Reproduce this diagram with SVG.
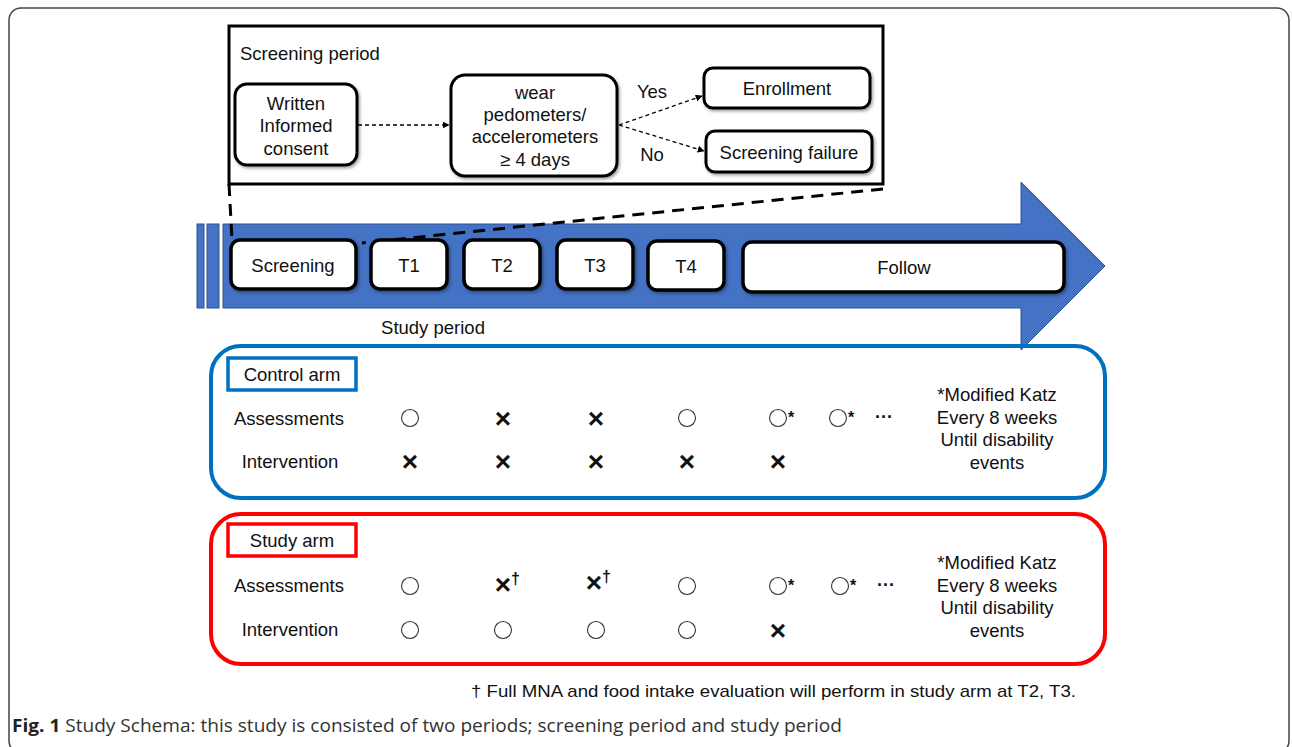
<svg xmlns="http://www.w3.org/2000/svg" width="1292" height="747" viewBox="0 0 1292 747">
<defs>
<style>
text{font-family:"Liberation Sans",Arial,sans-serif;fill:#111;}
.t18{font-size:18.5px;}
.t17{font-size:17px;}
.c{text-anchor:middle;}
.node{fill:#fff;stroke:#000;stroke-width:3.5;}
.snode{fill:#fff;stroke:#000;stroke-width:3;}
.dash{fill:none;stroke:#000;stroke-width:1.3;stroke-dasharray:4 3;}
.bigdash{fill:none;stroke:#000;stroke-width:3;stroke-dasharray:12 8;}
.circ{fill:#fff;stroke:#333;stroke-width:1.1;}
.x{font-size:28px;font-weight:bold;text-anchor:middle;}
.sup{font-size:16px;font-weight:bold;}
.dots{font-size:18px;font-weight:bold;text-anchor:middle;}
</style>
<marker id="ah" viewBox="0 0 10 10" refX="9" refY="5" markerWidth="7" markerHeight="7" orient="auto" markerUnits="userSpaceOnUse">
<path d="M0,0 L10,5 L0,10 z" fill="#000"/>
</marker>
<filter id="sh" x="-10%" y="-10%" width="130%" height="140%">
<feDropShadow dx="1.5" dy="2" stdDeviation="1.5" flood-color="#000" flood-opacity="0.35"/>
</filter>
</defs>

<rect x="9" y="8" width="1280" height="745" rx="12" fill="#fff" stroke="#444" stroke-width="1.5"/>

<!-- Screening period panel -->
<g id="screening-panel">
<rect x="229" y="26" width="654" height="158" fill="#fff" stroke="#000" stroke-width="3"/>
<text class="t18" x="240" y="60">Screening period</text>
</g>

<!-- timeline arrow -->
<g id="timeline-arrow">
<rect x="197" y="224" width="7" height="84" fill="#4472C4" stroke="#2F528F" stroke-width="1"/>
<rect x="207" y="224" width="12" height="84" fill="#4472C4" stroke="#2F528F" stroke-width="1"/>
<path d="M223,224 L1021,224 L1021,182 L1105,266 L1021,350 L1021,308 L223,308 z" fill="#4472C4" stroke="#2F528F" stroke-width="1"/>
</g>

<g id="connectors">
<path class="bigdash" d="M229,184 L232,240"/>
<path class="bigdash" d="M883,189 L362,243"/>
<path class="dash" d="M358,125 L449,125" marker-end="url(#ah)"/>
<path class="dash" d="M619,125 L702,96" marker-end="url(#ah)"/>
<path class="dash" d="M619,125 L704,151" marker-end="url(#ah)"/>
</g>

<g id="n-consent">
<rect class="snode" x="235" y="84" width="122" height="81" rx="12" filter="url(#sh)"/>
<text class="t18 c" x="296" y="110">Written</text>
<text class="t18 c" x="296" y="132">Informed</text>
<text class="t18 c" x="296" y="155">consent</text>
</g>
<g id="n-wear">
<rect class="snode" x="451" y="75" width="166" height="101" rx="14" filter="url(#sh)"/>
<text class="t18 c" x="535" y="99">wear</text>
<text class="t18 c" x="535" y="121">pedometers/</text>
<text class="t18 c" x="535" y="143">accelerometers</text>
<text class="t18 c" x="535" y="166">≥ 4 days</text>
</g>
<g id="n-enroll">
<rect class="snode" x="704" y="68" width="166" height="40" rx="9" filter="url(#sh)"/>
<text class="t18 c" x="787" y="95">Enrollment</text>
</g>
<g id="n-fail">
<rect class="snode" x="706" y="131" width="166" height="41" rx="9" filter="url(#sh)"/>
<text class="t18 c" x="789" y="159">Screening failure</text>
</g>
<g id="labels-yesno">
<text class="t18 c" x="652" y="98">Yes</text>
<text class="t18 c" x="652" y="161">No</text>
</g>

<!-- timeline boxes -->
<g id="n-screening">
<rect class="node" x="231" y="240" width="125" height="49" rx="9" filter="url(#sh)"/>
<text class="t18 c" x="293" y="272">Screening</text>
</g>
<g id="n-t1">
<rect class="node" x="371" y="240" width="76" height="49" rx="9" filter="url(#sh)"/>
<text class="t18 c" x="409" y="272">T1</text>
</g>
<g id="n-t2">
<rect class="node" x="464" y="240" width="76" height="49" rx="9" filter="url(#sh)"/>
<text class="t18 c" x="502" y="272">T2</text>
</g>
<g id="n-t3">
<rect class="node" x="557" y="240" width="76" height="49" rx="9" filter="url(#sh)"/>
<text class="t18 c" x="595" y="272">T3</text>
</g>
<g id="n-t4">
<rect class="node" x="648" y="241" width="76" height="49" rx="9" filter="url(#sh)"/>
<text class="t18 c" x="686" y="273">T4</text>
</g>
<g id="n-follow">
<rect class="node" x="743" y="242" width="321" height="50" rx="9" filter="url(#sh)"/>
<text class="t18 c" x="904" y="274">Follow</text>
</g>
<text class="t18 c" x="433" y="334">Study period</text>

<!-- Control arm -->
<g id="control-arm">
<rect x="211" y="346" width="894" height="152" rx="30" fill="none" stroke="#0070C0" stroke-width="4"/>
<rect x="228" y="358" width="128" height="32" fill="#fff" stroke="#0070C0" stroke-width="3.5"/>
<text class="t18 c" x="292" y="381">Control arm</text>
<text class="t18 c" x="289" y="425">Assessments</text>
<text class="t18 c" x="290" y="468">Intervention</text>
<circle class="circ" cx="410" cy="418" r="8.5"/>
<text class="x" x="503" y="428">×</text>
<text class="x" x="596" y="428">×</text>
<circle class="circ" cx="687" cy="418" r="8.5"/>
<circle class="circ" cx="778" cy="418" r="8.5"/>
<text class="sup" x="788" y="423">*</text>
<circle class="circ" cx="838" cy="418" r="8.5"/>
<text class="sup" x="848" y="423">*</text>
<text class="dots" x="884" y="423">···</text>
<text class="x" x="410" y="471">×</text>
<text class="x" x="503" y="471">×</text>
<text class="x" x="596" y="471">×</text>
<text class="x" x="687" y="471">×</text>
<text class="x" x="778" y="471">×</text>
<text class="t18 c" x="997" y="401">*Modified Katz</text>
<text class="t18 c" x="997" y="424">Every 8 weeks</text>
<text class="t18 c" x="997" y="446">Until disability</text>
<text class="t18 c" x="997" y="469">events</text>
</g>

<!-- Study arm -->
<g id="study-arm">
<rect x="211" y="514" width="894" height="150" rx="30" fill="none" stroke="#FF0000" stroke-width="4"/>
<rect x="228" y="524" width="128" height="32" fill="#fff" stroke="#FF0000" stroke-width="3.5"/>
<text class="t18 c" x="292" y="547">Study arm</text>
<text class="t18 c" x="289" y="592">Assessments</text>
<text class="t18 c" x="290" y="636">Intervention</text>
<circle class="circ" cx="410" cy="586" r="8.5"/>
<text class="x" x="503" y="594">×</text>
<text class="sup" x="511" y="584">†</text>
<text class="x" x="594" y="592">×</text>
<text class="sup" x="602" y="582">†</text>
<circle class="circ" cx="687" cy="586" r="8.5"/>
<circle class="circ" cx="778" cy="586" r="8.5"/>
<text class="sup" x="788" y="591">*</text>
<circle class="circ" cx="840" cy="586" r="8.5"/>
<text class="sup" x="850" y="591">*</text>
<text class="dots" x="886" y="591">···</text>
<circle class="circ" cx="410" cy="630" r="8.5"/>
<circle class="circ" cx="503" cy="630" r="8.5"/>
<circle class="circ" cx="596" cy="630" r="8.5"/>
<circle class="circ" cx="687" cy="630" r="8.5"/>
<text class="x" x="778" y="640">×</text>
<text class="t18 c" x="997" y="569">*Modified Katz</text>
<text class="t18 c" x="997" y="592">Every 8 weeks</text>
<text class="t18 c" x="997" y="614">Until disability</text>
<text class="t18 c" x="997" y="637">events</text>
</g>

<text class="t17" x="471" y="697" textLength="605" lengthAdjust="spacingAndGlyphs">† Full MNA and food intake evaluation will perform in study arm at T2, T3.</text>

<text x="12" y="732" style="font-family:'Open Sans','Noto Sans',sans-serif;font-size:18px;fill:#333;" textLength="830" lengthAdjust="spacingAndGlyphs"><tspan style="font-weight:bold;fill:#222;">Fig. 1</tspan> Study Schema: this study is consisted of two periods; screening period and study period</text>
</svg>
